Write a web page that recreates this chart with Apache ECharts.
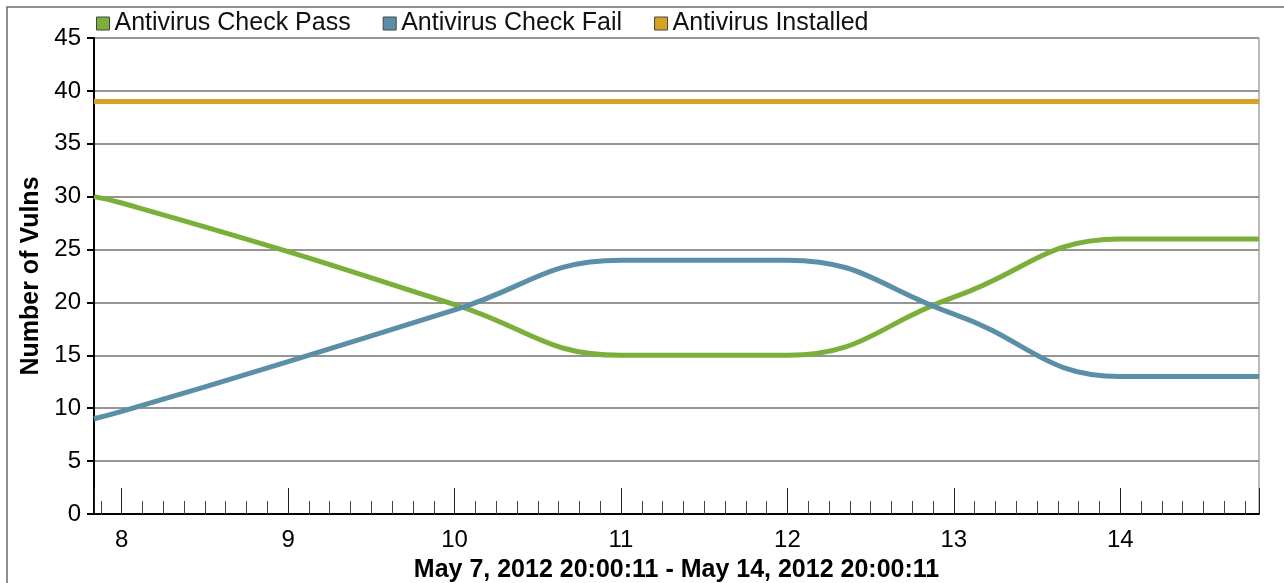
<!DOCTYPE html>
<html lang="en">
<head>
    <meta charset="UTF-8">
    <title>Antivirus trend</title>
    <script src="https://cdn.jsdelivr.net/npm/echarts@6/dist/echarts.min.js"></script>
</head>
<body style="margin:0;background:#fff;">
<div id="container" style="width:1284px;height:583px;"></div>
<script>
    // x positions are days of May 2012; first/last are the 20:00:11 range limits
    var days = [7.8335, 8, 9, 10, 11, 12, 13, 14, 14.8335];
    var passValues = [30, 29.4, 24.8, 19.8, 15, 15, 20.5, 26, 26];
    var failValues = [9, 9.7, 14.4, 19.3, 24, 24, 18.9, 13, 13];
    var installedValues = [39, 39, 39, 39, 39, 39, 39, 39, 39];
    var seriesNames = ['Antivirus Check Pass', 'Antivirus Check Fail', 'Antivirus Installed'];
    var seriesColors = ['#7ab03a', '#5b8fa8', '#d9a026'];
    var yMin = 0, yMax = 45, yStep = 5;
    var xTitle = 'May 7, 2012 20:00:11 - May 14, 2012 20:00:11';
    var yTitle = 'Number of Vulns';

    var font = '"Liberation Sans", Arial, sans-serif';

    function pairs(vals) {
        return days.map(function (d, i) {
            return [d, vals[i]];
        });
    }

    var dom = document.getElementById('container');
    var myChart = echarts.init(dom);

    var option = {
        animation: false,
        backgroundColor: '#fff',
        textStyle: {fontFamily: font},
        graphic: [{
            type: 'rect',
            silent: true,
            z: -1,
            shape: {x: 7, y: 7, width: 1300, height: 620},
            style: {fill: 'none', stroke: '#6a6a6a', lineWidth: 1.5}
        }],
        legend: {
            left: 96,
            top: 11,
            padding: 0,
            itemWidth: 13,
            itemHeight: 13,
            itemGap: 32,
            icon: 'rect',
            itemStyle: {borderColor: '#444', borderWidth: 1},
            textStyle: {fontFamily: font, fontSize: 25, color: '#111'},
            data: seriesNames
        },
        grid: {
            left: 94,
            right: 25,
            top: 38,
            bottom: 69,
            show: true,
            borderColor: '#777',
            borderWidth: 1,
            outerBoundsMode: 'none'
        },
        xAxis: {
            type: 'value',
            min: days[0],
            max: days[days.length - 1],
            minInterval: 1,
            maxInterval: 1,
            axisLine: {lineStyle: {color: '#000', width: 2}},
            axisTick: {inside: true, length: 26, lineStyle: {color: '#222', width: 1}},
            minorTick: {show: true, splitNumber: 8, length: 13, lineStyle: {color: '#444', width: 1}},
            splitLine: {show: false},
            axisLabel: {
                margin: 14,
                fontSize: 24,
                color: '#000',
                fontFamily: font,
                showMinLabel: false,
                showMaxLabel: false,
                formatter: function (v) {
                    return v % 1 === 0 ? String(v) : '';
                }
            },
            name: xTitle,
            nameLocation: 'middle',
            nameGap: 44,
            nameTextStyle: {fontWeight: 'bold', fontSize: 25, color: '#000', fontFamily: font}
        },
        yAxis: {
            type: 'value',
            min: yMin,
            max: yMax,
            interval: yStep,
            axisLine: {show: true, lineStyle: {color: '#000', width: 2}},
            axisTick: {show: true, length: 7, lineStyle: {color: '#000', width: 2}},
            splitLine: {lineStyle: {color: '#959595', width: 2}},
            axisLabel: {margin: 13, fontSize: 24, color: '#000', fontFamily: font},
            name: yTitle,
            nameLocation: 'middle',
            nameGap: 48,
            nameTextStyle: {fontWeight: 'bold', fontSize: 25, color: '#000', fontFamily: font}
        },
        series: [
            {
                name: seriesNames[0],
                type: 'line',
                smooth: 0.45,
                symbol: 'none',
                color: seriesColors[0],
                lineStyle: {width: 5, color: seriesColors[0]},
                data: pairs(passValues)
            },
            {
                name: seriesNames[1],
                type: 'line',
                smooth: 0.45,
                symbol: 'none',
                color: seriesColors[1],
                lineStyle: {width: 5, color: seriesColors[1]},
                data: pairs(failValues)
            },
            {
                name: seriesNames[2],
                type: 'line',
                symbol: 'none',
                color: seriesColors[2],
                lineStyle: {width: 5, color: seriesColors[2]},
                data: pairs(installedValues)
            }
        ]
    };

    myChart.setOption(option);
</script>
</body>
</html>
